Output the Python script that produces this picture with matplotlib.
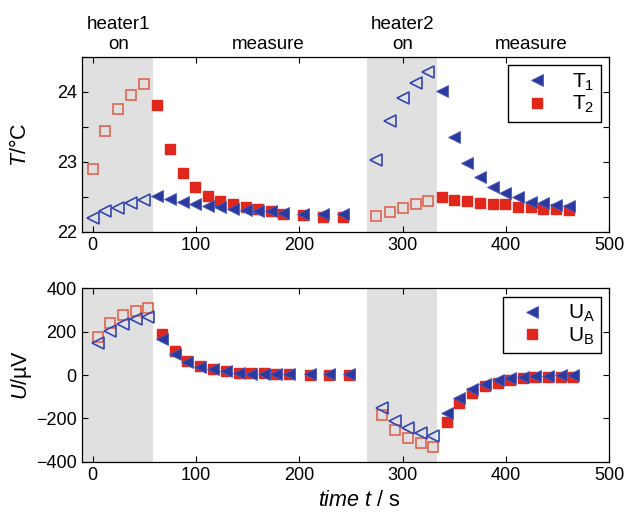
import numpy as np
import matplotlib
matplotlib.use('Agg')
import matplotlib.pyplot as plt
from matplotlib.ticker import MultipleLocator

plt.rcParams['font.family'] = ['Liberation Sans', 'DejaVu Sans']
plt.rcParams['mathtext.fontset'] = 'custom'
plt.rcParams['mathtext.rm'] = 'Liberation Sans'
plt.rcParams['mathtext.it'] = 'Liberation Sans:italic'
plt.rcParams['font.size'] = 13

# top panel: temperatures
t_top = [0, 12.3, 24.5, 37, 49.3, 62.3, 74.5, 87, 99.3, 111.2, 123.5, 135.8, 148.4,
         160.5, 172.8, 184.7, 204, 223.4, 242.7]
T1_a = [22.19, 22.29, 22.34, 22.41, 22.46, 22.51, 22.47, 22.43, 22.40, 22.37, 22.35,
        22.32, 22.31, 22.30, 22.29, 22.27, 22.26, 22.25, 22.25]
T2_a = [22.90, 23.44, 23.75, 23.95, 24.12, 23.81, 23.18, 22.84, 22.64, 22.51, 22.44,
        22.39, 22.36, 22.32, 22.29, 22.26, 22.24, 22.21, 22.21]
t_top2 = [274, 287.6, 300.2, 312.8, 325, 337.9, 350.1, 362.1, 375, 387.2, 399.4,
          411.7, 424, 436.2, 448.5, 460.7]
T1_b = [23.02, 23.59, 23.91, 24.13, 24.29, 24.02, 23.35, 22.99, 22.78, 22.64, 22.56,
        22.50, 22.43, 22.41, 22.38, 22.37]
T2_b = [22.23, 22.28, 22.34, 22.39, 22.44, 22.49, 22.45, 22.44, 22.41, 22.40, 22.40,
        22.36, 22.35, 22.33, 22.32, 22.31]

# bottom panel: voltages
t_bot = [5.2, 17.1, 29.4, 41.6, 53.9, 67.1, 79.3, 91.3, 104.2, 116.4, 129, 141.2,
         153.2, 165.4, 177.7, 189.9, 209.9, 229.2, 248.5]
UA_a = [146, 203, 234, 257, 269, 166, 97, 62, 38, 26, 17, 11, 6, 5, 3, 3, 3, 3, 3]
UB_a = [177, 238, 277, 297, 311, 189, 112, 66, 42, 26, 18, 11, 8, 8, 5, 3, 2, 1, 0]
t_bot2 = [280.5, 292.7, 305, 317.6, 329.8, 342.7, 354.9, 367.5, 379.8, 392, 404.2,
          416.2, 428.4, 440.7, 453, 465.2]
UA_b = [-151, -211, -246, -269, -282, -177, -105, -65, -42, -23, -15, -9, -5, -3, -2, -1]
UB_b = [-185, -254, -292, -315, -334, -215, -128, -82, -49, -35, -23, -15, -11, -11, -11, -8]

n_heat = 5  # first points of each run taken while heater on
heat_spans = [(-10, 58.4), (265.4, 333.6)]
phase_labels = ['heater1\non', 'measure', 'heater2\non', 'measure']
phase_x = [24.8, 169.5, 300, 424.3]

blue = '#2b3a9c'
blue_open = '#3446ad'
red = '#e1261c'
red_open = '#e0644f'
grey = '#e0e0e0'

fig = plt.figure(figsize=(6.3, 5.13), dpi=100)
ax1 = fig.add_axes([0.1306, 0.5483, 0.8365, 0.3405])
ax2 = fig.add_axes([0.1306, 0.1000, 0.8365, 0.3380])


def panel(ax, ta, tb, a1, a2, b1, b2, labels):
    for lo, hi in heat_spans:
        ax.axvspan(lo, hi, color=grey, lw=0, zorder=0)
    for t, y1, y2 in [(ta, a1, a2), (tb, b1, b2)]:
        t = np.array(t); y1 = np.array(y1); y2 = np.array(y2)
        ax.plot(t[:n_heat], y2[:n_heat], 's', ms=6.5, mfc='none', mec=red_open, mew=1.2)
        ax.plot(t[:n_heat], y1[:n_heat], '<', ms=8, mfc='none', mec=blue_open, mew=1.2)
        ax.plot(t[n_heat:], y2[n_heat:], 's', ms=6.5, color=red, mec=red)
        ax.plot(t[n_heat:], y1[n_heat:], '<', ms=9, color=blue, mec='#4a5ac0', mew=0.6)
    h1 = ax.plot([], [], '<', ms=9, color=blue, mec='#4a5ac0', mew=0.6)[0]
    h2 = ax.plot([], [], 's', ms=6.5, color=red, mec=red)[0]
    leg = ax.legend([h1, h2], labels, loc='upper right', fancybox=False,
                    edgecolor='black', framealpha=1, borderaxespad=0.4,
                    bbox_to_anchor=(1, 1), handletextpad=0.6, handlelength=2.2,
                    fontsize=15, borderpad=0.3, labelspacing=0.05)
    leg.get_frame().set_linewidth(1.0)
    ax.set_xlim(-10, 500)
    ax.xaxis.set_major_locator(MultipleLocator(100))
    ax.tick_params(direction='in', top=True, right=True, length=4, width=0.8,
                   labelsize=13, pad=4)
    ax.tick_params(which='minor', direction='in', right=True, length=4, width=0.8)
    for s in ax.spines.values():
        s.set_linewidth(0.9)


panel(ax1, t_top, t_top2, T1_a, T2_a, T1_b, T2_b, ['T$_1$', 'T$_2$'])
ax1.set_ylim(22, 24.5)
ax1.yaxis.set_major_locator(MultipleLocator(1))
ax1.yaxis.set_minor_locator(MultipleLocator(0.5))
ax1.set_ylabel('$T$/°C', fontsize=15.5)
ax1.yaxis.set_label_coords(-0.097, 0.5)

panel(ax2, t_bot, t_bot2, UA_a, UB_a, UA_b, UB_b, ['U$_\\mathrm{A}$', 'U$_\\mathrm{B}$'])
ax2.set_ylim(-400, 400)
ax2.set_yticks([-400, -200, 0, 200, 400])
ax2.set_yticklabels(['\u2212400', '\u2212200', '0', '200', '400'])
ax2.set_ylabel('$U$/\u00b5V', fontsize=15.5)
ax2.yaxis.set_label_coords(-0.092, 0.5)
ax2.set_xlabel('$\\mathit{time\\ t}$ / s', fontsize=15.5)
ax2.xaxis.set_label_coords(0.525, -0.165)

for x, s in zip(phase_x, phase_labels):
    ax1.text(x, 1.025, s, transform=ax1.get_xaxis_transform(), ha='center',
             va='bottom', fontsize=13.5, linespacing=1.2)

fig.savefig('out.png', dpi=100)
